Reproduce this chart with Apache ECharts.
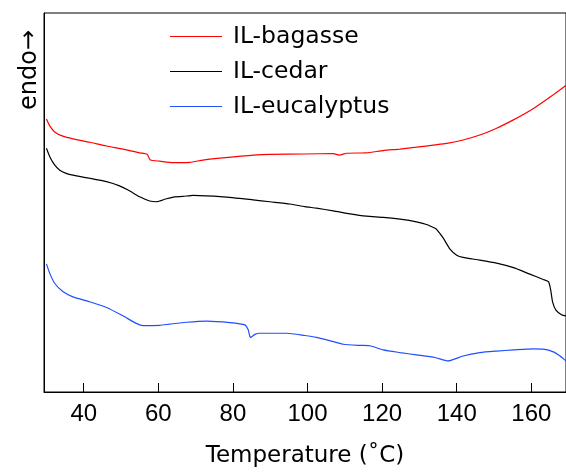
<!DOCTYPE html>
<html>
<head>
<meta charset="utf-8">
<script src="https://cdn.jsdelivr.net/npm/echarts@6/dist/echarts.min.js"></script>
<style>
html,body{margin:0;padding:0;background:#fff;}
#chart{width:566px;height:473px;}
</style>
</head>
<body>
<div id="chart"></div>
<script>
// Temperature (°C) and heat flow (arbitrary units, endo up)
const seriesNames = ['IL-bagasse', 'IL-cedar', 'IL-eucalyptus'];
const xTicks = [40, 60, 80, 100, 120, 140, 160];

const bagasseT = [30.0, 30.9, 32.2, 34.4, 37.1, 41.6, 46.1, 50.5, 55.0, 57.0, 57.9, 60.4, 63.9, 68.4, 72.0, 76.5, 81.0, 85.4, 89.9, 99.3, 106.9, 108.5, 110.5, 115.8, 120.3, 124.8, 129.2, 134.2, 137.3, 141.7, 146.2, 150.7, 155.2, 159.6, 164.1, 169.3];
const bagasseV = [72.0, 70.2, 68.6, 67.5, 66.8, 65.9, 64.9, 64.1, 63.1, 62.7, 61.2, 60.9, 60.5, 60.6, 61.2, 61.7, 62.1, 62.5, 62.7, 62.8, 62.9, 62.5, 63.0, 63.1, 63.7, 64.1, 64.6, 65.2, 65.6, 66.5, 67.8, 69.6, 71.8, 74.2, 77.2, 80.9];

const cedarT = [30.0, 30.9, 32.2, 33.5, 35.3, 37.1, 41.6, 46.1, 49.6, 51.9, 55.0, 57.7, 59.5, 62.2, 64.4, 66.6, 69.3, 77.4, 85.4, 89.9, 95.3, 99.3, 102.4, 106.9, 111.4, 115.8, 120.3, 124.8, 129.2, 131.9, 134.2, 134.6, 136.4, 138.2, 140.0, 141.7, 146.2, 150.7, 155.2, 159.6, 163.2, 164.6, 165.2, 165.7, 166.6, 168.2, 169.3];
const cedarV = [64.3, 62.1, 59.9, 58.6, 57.7, 57.2, 56.4, 55.5, 54.4, 53.3, 51.5, 50.4, 50.2, 51.0, 51.5, 51.6, 51.9, 51.5, 50.7, 50.2, 49.6, 48.9, 48.5, 47.8, 47.0, 46.4, 46.1, 45.6, 44.9, 44.2, 43.2, 42.9, 40.6, 37.7, 36.1, 35.5, 34.8, 34.0, 32.8, 31.1, 29.7, 29.1, 26.9, 23.8, 21.6, 20.3, 20.1];

const eucalyptusT = [30.0, 30.9, 32.2, 34.4, 37.1, 41.6, 46.1, 50.5, 54.1, 55.9, 60.4, 63.0, 67.5, 72.9, 79.2, 83.2, 84.1, 84.7, 85.9, 87.2, 94.4, 99.3, 102.4, 106.9, 109.6, 114.0, 116.7, 120.3, 124.8, 129.2, 134.2, 137.7, 141.7, 146.2, 150.7, 155.2, 160.5, 163.2, 165.9, 167.7, 169.3];
const eucalyptusV = [33.8, 31.3, 28.7, 26.5, 25.1, 23.8, 22.3, 20.1, 18.1, 17.5, 17.6, 17.9, 18.4, 18.7, 18.3, 17.7, 16.4, 14.4, 15.2, 15.5, 15.5, 14.9, 14.4, 13.3, 12.6, 12.3, 12.2, 11.1, 10.4, 9.8, 9.1, 8.2, 9.5, 10.4, 10.8, 11.1, 11.4, 11.3, 10.6, 9.5, 8.2];

const pairs = (xs, ys) => xs.map((x, i) => [x, ys[i]]);
const FONT = 'DejaVu Sans';
const NUMFONT = 'Liberation Sans';

const chart = echarts.init(document.getElementById('chart'), null, {renderer: 'canvas'});
chart.setOption({
  animation: false,
  backgroundColor: '#fff',
  grid: {left: 44, right: -2, top: 13, bottom: 81, show: true, borderColor: '#000', borderWidth: 1, backgroundColor: 'transparent'},
  legend: {
    orient: 'vertical', left: 165, top: 19, itemGap: 10, itemWidth: 52, itemHeight: 1.2,
    icon: 'rect',
    textStyle: {fontFamily: FONT, fontSize: 23.5, lineHeight: 25, color: '#000', padding: [0, 0, 0, 6]},
    data: seriesNames
  },
  xAxis: {
    type: 'value', min: 29.35, max: 169.3,
    name: 'Temperature (˚C)', nameLocation: 'middle', nameGap: 53,
    nameTextStyle: {fontFamily: FONT, fontSize: 23, color: '#000'},
    axisLine: {show: true, lineStyle: {color: '#000', width: 1}},
    axisTick: {show: true, inside: true, length: 9, customValues: xTicks, lineStyle: {color: '#000'}},
    axisLabel: {fontFamily: NUMFONT, fontSize: 24, color: '#000', margin: 10, customValues: xTicks},
    splitLine: {show: false}
  },
  yAxis: {
    type: 'value', min: 0, max: 100,
    axisLine: {show: true, lineStyle: {color: '#000', width: 1}},
    axisTick: {show: false}, axisLabel: {show: false}, splitLine: {show: false}
  },
  graphic: [{
    type: 'text', x: 30, y: 70, rotation: Math.PI / 2,
    style: {text: 'endo→', fontFamily: FONT, fontSize: 24, fill: '#000', align: 'center', verticalAlign: 'middle'}
  }],
  series: [
    {name: seriesNames[0], type: 'line', data: pairs(bagasseT, bagasseV), showSymbol: false, symbol: 'none', smooth: 0.2, lineStyle: {color: '#ff0000', width: 1.2}, itemStyle: {color: '#ff0000'}},
    {name: seriesNames[1], type: 'line', data: pairs(cedarT, cedarV), showSymbol: false, symbol: 'none', smooth: 0.2, lineStyle: {color: '#000000', width: 1.2}, itemStyle: {color: '#000000'}},
    {name: seriesNames[2], type: 'line', data: pairs(eucalyptusT, eucalyptusV), showSymbol: false, symbol: 'none', smooth: 0.2, lineStyle: {color: '#1f4fff', width: 1.2}, itemStyle: {color: '#1f4fff'}}
  ]
});
</script>
</body>
</html>
